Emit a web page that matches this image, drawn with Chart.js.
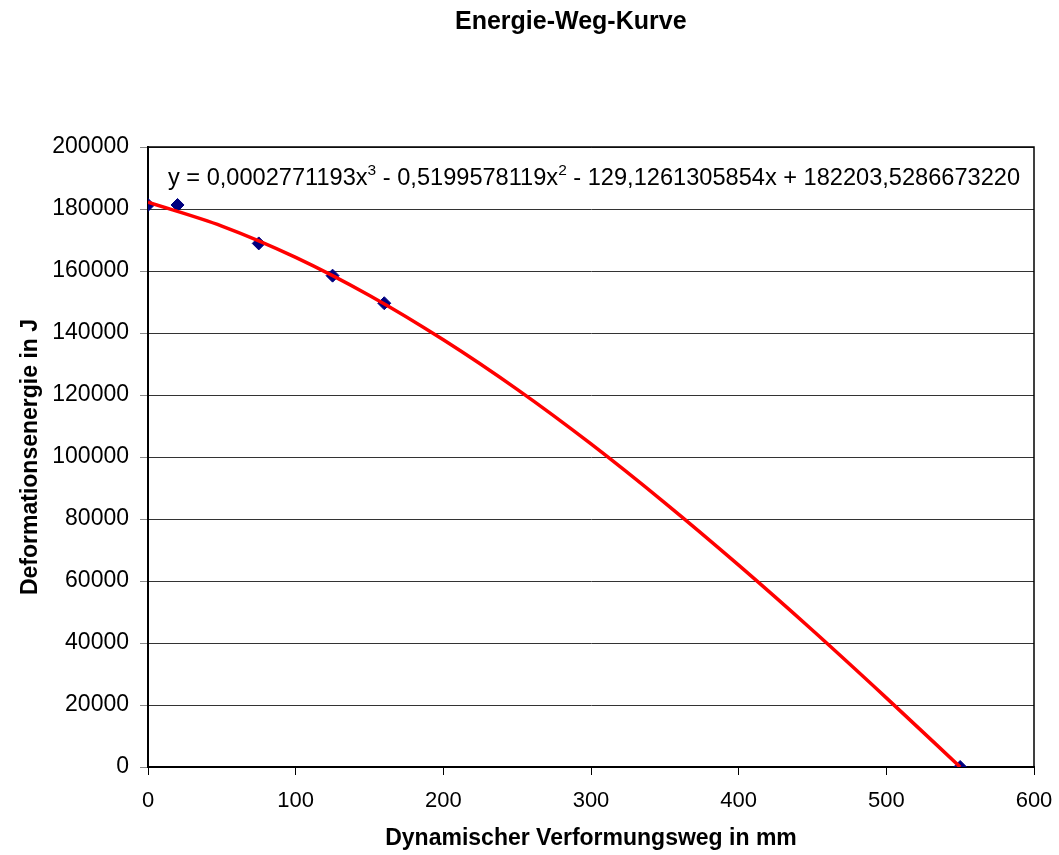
<!DOCTYPE html>
<html>
<head>
<meta charset="utf-8">
<script src="https://cdn.jsdelivr.net/npm/chart.js@4/dist/chart.umd.min.js"></script>
<style>
  html, body { margin: 0; padding: 0; background: #fff; }
</style>
</head>
<body>
<canvas id="energieChart" width="1059" height="855"></canvas>
<script>
const chartTitle = 'Energie-Weg-Kurve';
const xTitle = 'Dynamischer Verformungsweg in mm';
const yTitle = 'Deformationsenergie in J';

// Messpunkte (Weg in mm, Energie in J)
const wegMm = [0, 20, 75, 125, 160, 550];
const energieJ = [181300, 181300, 168900, 158500, 149600, 0];

// Trendlinie
const trendWeg = [0, 50, 100, 150, 200, 250, 300, 350, 400, 450, 500, 550];
const trendEnergie = [182200, 174500, 164400, 152100, 137800, 121800, 104200, 85200, 65100, 44100, 22300, 0];

// Gleichung der Trendlinie: [text, hochgestellt?]
const equationParts = [
    ['y = 0,0002771193x', false],
    ['3', true],
    [' - 0,5199578119x', false],
    ['2', true],
    [' - 129,1261305854x + 182203,5286673220', false]
];

const FONT = '"Liberation Sans", Arial, sans-serif';
Chart.defaults.font.family = FONT;
Chart.defaults.color = '#000';

const toPoints = (xs, ys) => xs.map((x, i) => ({ x: x, y: ys[i] }));

// Rahmen, Titel und Gleichung
const extras = {
    id: 'extras',
    beforeDatasetsDraw(chart) {
        const { ctx, chartArea } = chart;
        ctx.save();
        ctx.strokeStyle = '#000';
        ctx.lineWidth = 1.5;
        ctx.strokeRect(chartArea.left, chartArea.top, chartArea.right - chartArea.left, chartArea.bottom - chartArea.top);
        ctx.restore();
    },
    afterDraw(chart) {
        const { ctx, chartArea } = chart;
        ctx.save();
        ctx.fillStyle = '#000';
        ctx.textBaseline = 'alphabetic';
        ctx.textAlign = 'left';
        ctx.font = 'bold 25px ' + FONT;
        ctx.fillText(chartTitle, 455, 29);

        let x = chartArea.left + 20;
        const base = 185;
        equationParts.forEach(([txt, sup]) => {
            ctx.font = (sup ? '15.5px ' : '23.6px ') + FONT;
            ctx.fillText(txt, x, sup ? base - 10 : base);
            x += ctx.measureText(txt).width;
        });
        ctx.restore();
    }
};

new Chart(document.getElementById('energieChart'), {
    type: 'scatter',
    data: {
        datasets: [
            {
                label: 'Trend',
                data: toPoints(trendWeg, trendEnergie),
                showLine: true,
                borderColor: '#ff0000',
                borderWidth: 3.5,
                pointRadius: 0,
                cubicInterpolationMode: 'monotone',
                order: 0
            },
            {
                label: 'Energie',
                data: toPoints(wegMm, energieJ),
                pointStyle: 'rectRot',
                pointRadius: 6.5,
                backgroundColor: '#000080',
                borderColor: '#000080',
                borderWidth: 1,
                order: 1
            }
        ]
    },
    options: {
        responsive: false,
        animation: false,
        layout: { padding: { top: 147, right: 25, left: 0, bottom: 0 } },
        plugins: {
            legend: { display: false },
            tooltip: { enabled: false }
        },
        scales: {
            x: {
                type: 'linear',
                min: 0,
                max: 600,
                ticks: { stepSize: 100, font: { size: 22 }, padding: 13, callback: v => String(v) },
                grid: { drawOnChartArea: false, tickLength: 8, tickColor: '#000' },
                border: { color: '#000', width: 2 },
                title: { display: true, text: xTitle, font: { size: 23, weight: 'bold' }, padding: { top: 0, bottom: 3 } },
                afterFit: s => { s.height = 88; s.paddingLeft = 0; s.paddingRight = 0; }
            },
            y: {
                min: 0,
                max: 200000,
                ticks: { stepSize: 20000, font: { size: 23 }, padding: 11, callback: v => String(v) },
                grid: { color: '#333', tickColor: '#888', tickLength: 8 },
                border: { color: '#000', width: 2 },
                title: { display: true, text: yTitle, font: { size: 23, weight: 'bold' }, padding: { top: 17, bottom: 0 } },
                afterFit: s => { s.width = 148; }
            }
        }
    },
    plugins: [extras]
});
</script>
</body>
</html>
